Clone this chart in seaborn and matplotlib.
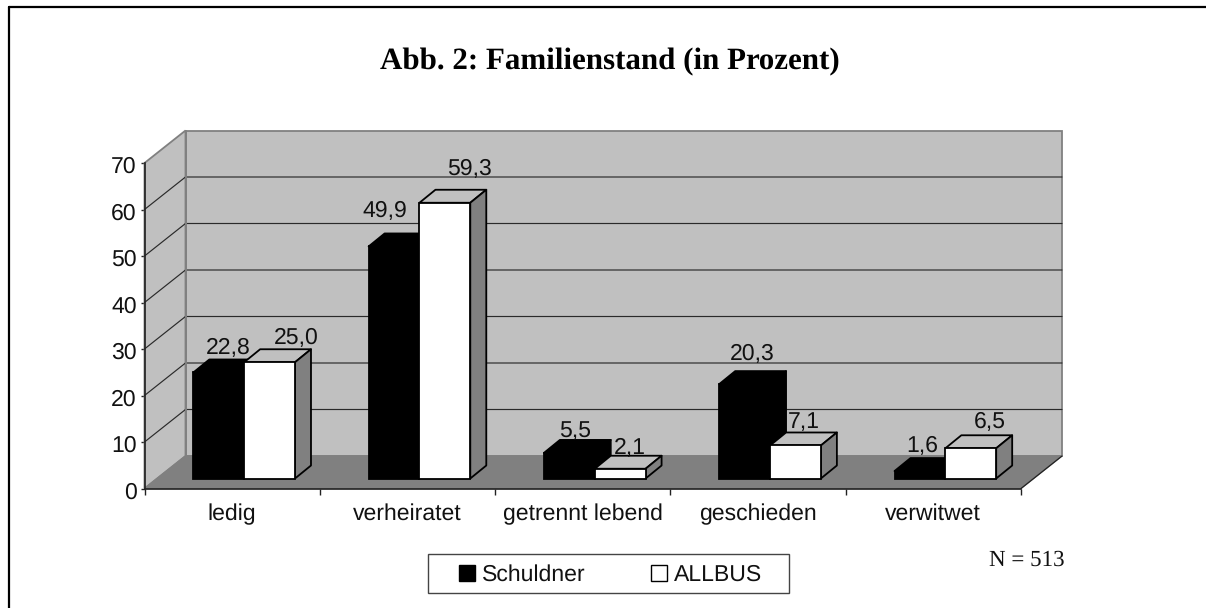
import matplotlib
matplotlib.use("Agg")
import matplotlib.pyplot as plt
import pandas as pd
import seaborn as sns
from matplotlib.lines import Line2D
from matplotlib.patches import Polygon, Rectangle
from matplotlib.transforms import ScaledTranslation, offset_copy

categories = ["ledig", "verheiratet", "getrennt lebend", "geschieden", "verwitwet"]
schuldner = [22.8, 49.9, 5.5, 20.3, 1.6]
allbus = [25.0, 59.3, 2.1, 7.1, 6.5]
series_names = ["Schuldner", "ALLBUS"]
title_text = "Abb. 2: Familienstand (in Prozent)"
note_text = "N = 513"
y_ticks = [0, 10, 20, 30, 40, 50, 60, 70]

# label nudges in pixels relative to the top centre of the front face of a bar
nudge_schuldner = [(10, 24), (-9, 35), (6, 22), (8, 30), (2, 25)]
nudge_allbus = [(27, 24), (25, 34), (10, 21), (8, 23), (19, 26)]

W, H = 1206, 608
AX_L, AX_R, AX_T, AX_B = 144.5, 1021.0, 163.0, 488.5
WALL_DX, WALL_DY = 41.0, 32.5   # depth of the chart box, pixels
BAR_DX, BAR_DY = 16.0, 13.0     # depth of the bars, pixels
SHIFT_X, SHIFT_Y = 12.0, 10.0   # offset of the bars from the front plane, pixels
FS = 16.7

sns.set_theme(style="white")
plt.rcParams["font.family"] = ["Liberation Sans", "DejaVu Sans"]
plt.rcParams["text.hinting"] = "no_hinting"
plt.rcParams["text.hinting_factor"] = 1
TXT = "#111111"
WALL, FLOOR, EDGE = "#C0C0C0", "#808080", "#808080"

fig = plt.figure(figsize=(W / 100, H / 100), dpi=100, facecolor="white")
ax = fig.add_axes([AX_L / W, 1 - AX_B / H, (AX_R - AX_L) / W, (AX_B - AX_T) / H])
ax.set_facecolor("none")

df = pd.DataFrame({
    "Kategorie": categories * 2,
    "Prozent": schuldner + allbus,
    "Reihe": [series_names[0]] * len(categories) + [series_names[1]] * len(categories),
})
sns.barplot(data=df, x="Kategorie", y="Prozent", hue="Reihe", order=categories,
            hue_order=series_names, palette={series_names[0]: "black", series_names[1]: "white"},
            width=0.58, gap=0, saturation=1, edgecolor="black", linewidth=1.3, ax=ax, zorder=5)
handles, labels = ax.get_legend_handles_labels()
if ax.get_legend():
    ax.get_legend().remove()

ax.set_xlim(-0.5, len(categories) - 0.5)
ax.set_ylim(0, y_ticks[-1])
ax.set_xlabel("")
ax.set_ylabel("")

fig.canvas.draw()
n = len(categories)
px_x = (AX_R - AX_L) / n
px_y = (AX_B - AX_T) / y_ticks[-1]
dx, dy = WALL_DX / px_x, WALL_DY / px_y
x0, x1 = -0.5, n - 0.5
ym = y_ticks[-1]

# walls and floor
ax.add_patch(Polygon([(x0 + dx, dy), (x1 + dx, dy), (x1 + dx, ym + dy), (x0 + dx, ym + dy)],
                     fc=WALL, ec=EDGE, lw=1.3, clip_on=False, zorder=1))
ax.add_patch(Polygon([(x0, 0), (x0 + dx, dy), (x0 + dx, ym + dy), (x0, ym)],
                     fc=WALL, ec=EDGE, lw=1.3, clip_on=False, zorder=1))
ax.add_patch(Polygon([(x0, 0), (x1, 0), (x1 + dx, dy), (x0 + dx, dy)],
                     fc=FLOOR, ec=FLOOR, lw=1.0, clip_on=False, zorder=1.5))
ax.plot([x1, x1 + dx], [0, dy], color="#222222", lw=0.9, clip_on=False, zorder=1.6)
for t in y_ticks[1:-1]:
    ax.plot([x0, x0 + dx, x1 + dx], [t, t + dy, t + dy], color="#2a2a2a", lw=0.85,
            clip_on=False, zorder=1.2)
ax.plot([x0 + dx, x0 + dx], [dy, ym + dy], color=EDGE, lw=1.4, clip_on=False, zorder=1.3)

# bars: shift the seaborn faces, then add their tops and sides
bar_tf = offset_copy(ax.transData, fig=fig, x=SHIFT_X, y=SHIFT_Y, units="dots")
bdx, bdy = BAR_DX / px_x, BAR_DY / px_y
nudges = [nudge_schuldner, nudge_allbus]
for s, container in enumerate(ax.containers):
    is_black = s == 0
    for i, bar in enumerate(container):
        bar.set_transform(bar_tf)
        bar.set_clip_on(False)
        bar.set_zorder(3.1 + s)
        xa, xb, v = bar.get_x(), bar.get_x() + bar.get_width(), bar.get_height()
        top_c, side_c = ("black", "black") if is_black else (WALL, FLOOR)
        ax.add_patch(Polygon([(xa, v), (xb, v), (xb + bdx, v + bdy), (xa + bdx, v + bdy)],
                             transform=bar_tf, fc=top_c, ec="black", lw=1.3, clip_on=False,
                             zorder=3 + s, joinstyle="round"))
        ax.add_patch(Polygon([(xb, 0), (xb + bdx, bdy), (xb + bdx, v + bdy), (xb, v)],
                             transform=bar_tf, fc=side_c, ec="black", lw=1.3, clip_on=False,
                             zorder=3 + s, joinstyle="round"))
        nx, ny = nudges[s][i]
        ax.annotate(f"{v:.1f}".replace(".", ","), ((xa + xb) / 2, v),
                    xycoords=bar_tf, xytext=(nx, ny), textcoords="offset pixels",
                    ha="center", va="center", fontsize=FS, color=TXT, zorder=8,
                    annotation_clip=False)

# axes
sns.despine(ax=ax, top=True, right=True)
for side in ("left", "bottom"):
    ax.spines[side].set_color("#222222")
    ax.spines[side].set_linewidth(1.2)
    ax.spines[side].set_zorder(2)
ax.set_yticks(y_ticks)
ax.set_yticklabels([str(t) for t in y_ticks], fontsize=FS, color=TXT)
ax.tick_params(axis="y", left=True, length=3, width=1, color="#222222", pad=2.5)
ax.set_xticks(range(n))
ax.set_xticklabels(categories, fontsize=FS, color=TXT)
ax.tick_params(axis="x", which="major", bottom=False, length=0, pad=10.5)
ax.set_xticks([i - 0.5 for i in range(n + 1)], minor=True)
ax.tick_params(axis="x", which="minor", bottom=True, length=4, width=1, color="#222222")
down = ScaledTranslation(0, -1.5 / 100, fig.dpi_scale_trans)
for lab in ax.get_yticklabels():
    lab.set_transform(lab.get_transform() + down)

# outer frame, open to the right and at the bottom of the picture
fig.add_artist(Line2D([9 / W, 9 / W], [0, 1 - 7 / H], color="black", lw=1.6))
fig.add_artist(Line2D([9 / W, 1], [1 - 7 / H, 1 - 7 / H], color="black", lw=1.6))

fig.text(610 / W, 1 - 62 / H, title_text, family="Liberation Serif", weight="bold",
         fontsize=22.1, color="black", ha="center", va="center")
fig.text(1026.5 / W, 1 - 560 / H, note_text, family="Liberation Serif",
         fontsize=16.9, color=TXT, ha="center", va="center")

# legend
fig.add_artist(Rectangle((428 / W, 1 - 593 / H), 361 / W, 39 / H, transform=fig.transFigure,
                         fc="white", ec="#444444", lw=1.0))
for h, c in zip(handles, ("black", "white")):
    h.set_facecolor(c)
    h.set_edgecolor("black")
    h.set_linewidth(1.0)
leg = fig.legend(handles, labels, loc="center", bbox_to_anchor=(610.5 / W, 1 - 575 / H),
                 ncols=2, frameon=False, fontsize=FS, handlelength=0.7, handleheight=0.7,
                 handletextpad=0.27, columnspacing=2.85, labelcolor=TXT)
leg.set_zorder(10)

fig.savefig("out.png", dpi=100, facecolor="white")
